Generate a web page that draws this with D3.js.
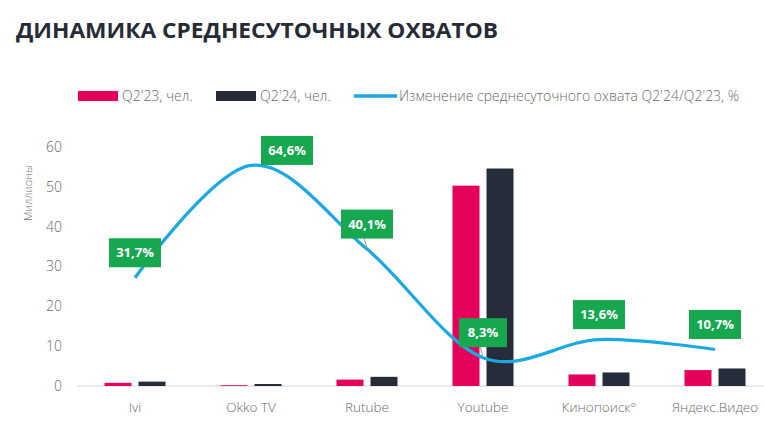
<!DOCTYPE html>
<html>
<head>
<meta charset="utf-8">
<script src="https://cdn.jsdelivr.net/npm/d3@7"></script>
<style>
  body { margin: 0; background: #fff; }
  svg { display: block; font-family: "Open Sans", sans-serif; }
</style>
</head>
<body>
<svg id="chart" width="764" height="439"></svg>
<script>
// data
var categories = ["Ivi", "Okko TV", "Rutube", "Youtube", "Кинопоиск°", "Яндекс.Видео"];
var reach2023 = [0.8, 0.2, 1.6, 50.3, 2.9, 4.0];   // млн чел.
var reach2024 = [1.1, 0.5, 2.3, 54.6, 3.4, 4.4];
var changePct = [31.7, 64.6, 40.1, 8.3, 13.6, 10.7];
var yTicks = [0, 10, 20, 30, 40, 50, 60];

var pink = "#e4005b", dark = "#272c3a", blue = "#1aa9e1", green = "#17a84f";

var svg = d3.select("#chart");

svg.append("text")
    .attr("x", 16).attr("y", 38)
    .attr("font-size", 22).attr("font-weight", 700)
    .attr("fill", "#262b36")
    .attr("textLength", 482).attr("lengthAdjust", "spacingAndGlyphs")
    .text("ДИНАМИКА СРЕДНЕСУТОЧНЫХ ОХВАТОВ");

// scales
var x = d3.scaleBand()
    .domain(categories)
    .range([77, 773]);
var y = d3.scaleLinear()
    .domain([0, 60])
    .range([386, 147]);
var y2 = d3.scaleLinear()   // hidden secondary axis for the %
    .domain([0, 70])
    .range([386, 147]);

// y axis labels
var yAxis = svg.append("g")
    .attr("transform", "translate(62,0)")
    .call(d3.axisLeft(y).tickValues(yTicks).tickSize(0).tickPadding(0));
yAxis.select(".domain").remove();
yAxis.selectAll("text")
    .attr("font-size", 14).attr("fill", "#6b6b6b").attr("font-weight", 300)
    .attr("font-family", "Open Sans, sans-serif");

svg.append("text")
    .attr("transform", "translate(32,193) rotate(-90)")
    .attr("text-anchor", "middle")
    .attr("font-size", 11).attr("fill", "#777").attr("font-weight", 300)
    .text("Миллионы");

// baseline
svg.append("line")
    .attr("x1", 77).attr("x2", 764)
    .attr("y1", y(0)).attr("y2", y(0))
    .attr("stroke", "#d4d4d4").attr("stroke-width", 1);

// x labels
var xAxis = svg.append("g")
    .attr("transform", "translate(0," + y(0) + ")")
    .call(d3.axisBottom(x).tickSize(0).tickPadding(16));
xAxis.select(".domain").remove();
xAxis.selectAll("text")
    .attr("font-size", 13.5).attr("fill", "#6b6b6b").attr("font-weight", 300)
    .attr("font-family", "Open Sans, sans-serif");

// bars
var barW = 27, barOff = 17;
var rows = categories.map(function(c, i) {
    return {cat: c, a: reach2023[i], b: reach2024[i], p: changePct[i]};
});

svg.append("g").selectAll("rect")
    .data(rows)
    .enter().append("rect")
    .attr("x", function(d) { return x(d.cat) + x.bandwidth() / 2 - barOff - barW / 2; })
    .attr("y", function(d) { return y(d.a); })
    .attr("width", barW)
    .attr("height", function(d) { return y(0) - y(d.a); })
    .attr("fill", pink);

svg.append("g").selectAll("rect")
    .data(rows)
    .enter().append("rect")
    .attr("x", function(d) { return x(d.cat) + x.bandwidth() / 2 + barOff - barW / 2; })
    .attr("y", function(d) { return y(d.b); })
    .attr("width", barW)
    .attr("height", function(d) { return y(0) - y(d.b); })
    .attr("fill", dark);

// smoothed % line
var line = d3.line()
    .x(function(d) { return x(d.cat) + x.bandwidth() / 2; })
    .y(function(d) { return y2(d.p); })
    .curve(d3.curveCardinal.tension(0));

svg.append("path")
    .datum(rows)
    .attr("d", line)
    .attr("fill", "none")
    .attr("stroke", blue)
    .attr("stroke-width", 3.2);

// labels (Okko one is pushed aside like in the source)
var nudge = {"Okko TV": [36, 10]};
var lab = svg.append("g").selectAll("g")
    .data(rows)
    .enter().append("g")
    .attr("transform", function(d) {
        var n = nudge[d.cat] || [0, 0];
        var cx = x(d.cat) + x.bandwidth() / 2 + n[0];
        var cy = y2(d.p) - 25 + n[1];
        return "translate(" + cx + "," + cy + ")";
    });

// thin leader lines for the two labels sitting on the line
["Rutube", "Youtube"].forEach(function(c) {
    var d = rows[categories.indexOf(c)];
    var cx = x(c) + x.bandwidth() / 2;
    svg.append("line")
        .attr("x1", cx - 3).attr("x2", cx)
        .attr("y1", y2(d.p) - 11).attr("y2", y2(d.p) - 1)
        .attr("stroke", "#999").attr("stroke-width", 1);
});

lab.append("rect")
    .attr("x", function(d) { return d.p < 10 ? -24 : -26; })
    .attr("width", function(d) { return d.p < 10 ? 48 : 52; })
    .attr("y", -14.5).attr("height", 29)
    .attr("fill", green);

lab.append("text")
    .attr("text-anchor", "middle")
    .attr("dy", "0.35em")
    .attr("font-size", 13).attr("font-weight", 700)
    .attr("fill", "#fff")
    .text(function(d) { return String(d.p).replace(".", ",") + "%"; });

// legend
var legend = [
    {name: "Q2'23, чел.", color: pink, type: "rect", x: 78},
    {name: "Q2'24, чел.", color: dark, type: "rect", x: 216},
    {name: "Изменение среднесуточного охвата Q2'24/Q2'23, %", color: blue, type: "line", x: 354}
];
var lg = svg.append("g").selectAll("g")
    .data(legend)
    .enter().append("g")
    .attr("transform", function(d) { return "translate(" + d.x + ",96)"; });

lg.filter(function(d) { return d.type === "rect"; })
    .append("rect")
    .attr("x", 0).attr("y", -5).attr("width", 40).attr("height", 10)
    .attr("fill", function(d) { return d.color; });
lg.filter(function(d) { return d.type === "line"; })
    .append("line")
    .attr("x1", 0).attr("x2", 43).attr("y1", 0).attr("y2", 0)
    .attr("stroke", function(d) { return d.color; })
    .attr("stroke-width", 3.5);
lg.append("text")
    .attr("x", function(d) { return d.type === "line" ? 45 : 44; })
    .attr("dy", "0.35em")
    .attr("font-size", 14).attr("fill", "#6b6b6b").attr("font-weight", 300)
    .text(function(d) { return d.name; });
</script>
</body>
</html>
